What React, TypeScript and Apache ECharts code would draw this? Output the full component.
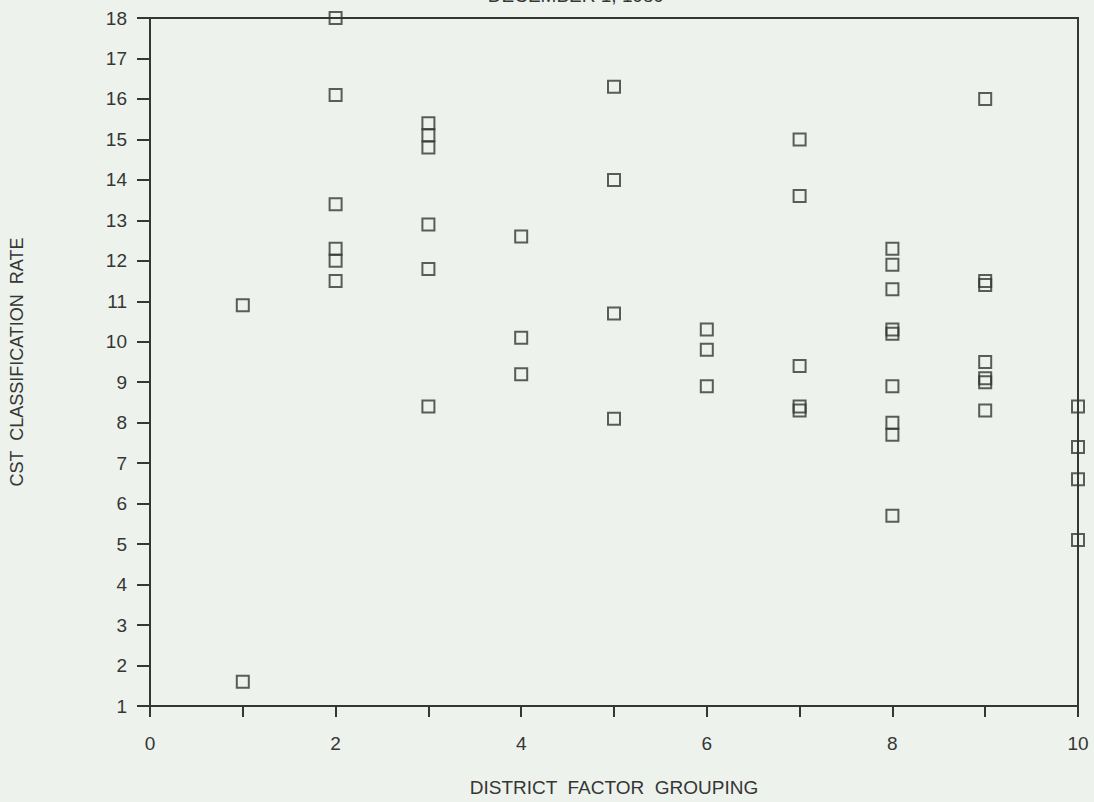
import React, { useEffect, useRef } from "react";
import * as echarts from "echarts";

const groups = [1, 2, 3, 4, 5, 6, 7, 8, 9, 10];
const rates: number[][] = [
  [10.9, 1.6],
  [18.0, 16.1, 13.4, 12.3, 12.0, 11.5],
  [15.4, 15.1, 14.8, 12.9, 11.8, 8.4],
  [12.6, 10.1, 9.2],
  [16.3, 14.0, 10.7, 8.1],
  [10.3, 9.8, 8.9],
  [15.0, 13.6, 9.4, 8.4, 8.3],
  [12.3, 11.9, 11.3, 10.3, 10.2, 8.9, 8.0, 7.7, 5.7],
  [16.0, 11.5, 11.4, 9.5, 9.1, 9.0, 8.3],
  [8.4, 7.4, 6.6, 5.1],
];
const titleText = "DECEMBER 1, 1989";
const xName = "DISTRICT  FACTOR  GROUPING";
const yName = "CST  CLASSIFICATION  RATE";

export default function App() {
  const ref = useRef<HTMLDivElement>(null);
  useEffect(() => {
    if (!ref.current) return;
    const chart = echarts.init(ref.current, undefined, { renderer: "svg" });
    const points: number[][] = [];
    groups.forEach((g, i) => rates[i].forEach((v) => points.push([g, v])));
    const ink = "#353635";
    const font = "'Liberation Sans', Arial, sans-serif";
    chart.setOption({
      animation: false,
      backgroundColor: "#edf2ec",
      textStyle: { fontFamily: font },
      graphic: [
        {
          type: "text",
          x: 576,
          y: 5,
          style: {
            text: titleText,
            textAlign: "center",
            textVerticalAlign: "bottom",
            fontSize: 19,
            fontFamily: font,
            fill: ink,
          },
        },
      ],
      grid: {
        left: 149,
        right: 16,
        top: 18,
        bottom: 95,
        show: true,
        borderColor: ink,
        borderWidth: 2,
      },
      xAxis: {
        type: "value",
        min: 0,
        max: 10,
        interval: 1,
        name: xName,
        nameLocation: "middle",
        nameGap: 72,
        nameTextStyle: { fontSize: 19, color: ink, fontFamily: font },
        axisLine: { show: true, lineStyle: { color: ink, width: 2 } },
        axisTick: { show: true, length: 11, lineStyle: { color: ink, width: 2 } },
        axisLabel: {
          fontSize: 19,
          color: ink,
          margin: 28,
          formatter: (v: number) => (v % 2 === 0 ? String(v) : ""),
        },
        splitLine: { show: false },
      },
      yAxis: {
        type: "value",
        min: 1,
        max: 18,
        interval: 1,
        name: yName,
        nameLocation: "middle",
        nameGap: 124,
        nameRotate: 90,
        nameTextStyle: { fontSize: 18, color: ink, fontFamily: font },
        axisLine: { show: true, lineStyle: { color: ink, width: 2 } },
        axisTick: { show: true, length: 13, lineStyle: { color: ink, width: 2 } },
        axisLabel: { fontSize: 19, color: ink, margin: 23 },
        splitLine: { show: false },
      },
      series: [
        {
          type: "scatter",
          data: points,
          symbol: "rect",
          symbolSize: 12,
          clip: false,
          itemStyle: { color: "transparent", borderColor: ink, borderWidth: 2 },
        },
      ],
    });
    return () => chart.dispose();
  }, []);
  return (
    <div
      ref={ref}
      style={{ position: "absolute", left: 0, top: 0, width: 1094, height: 802 }}
    />
  );
}
